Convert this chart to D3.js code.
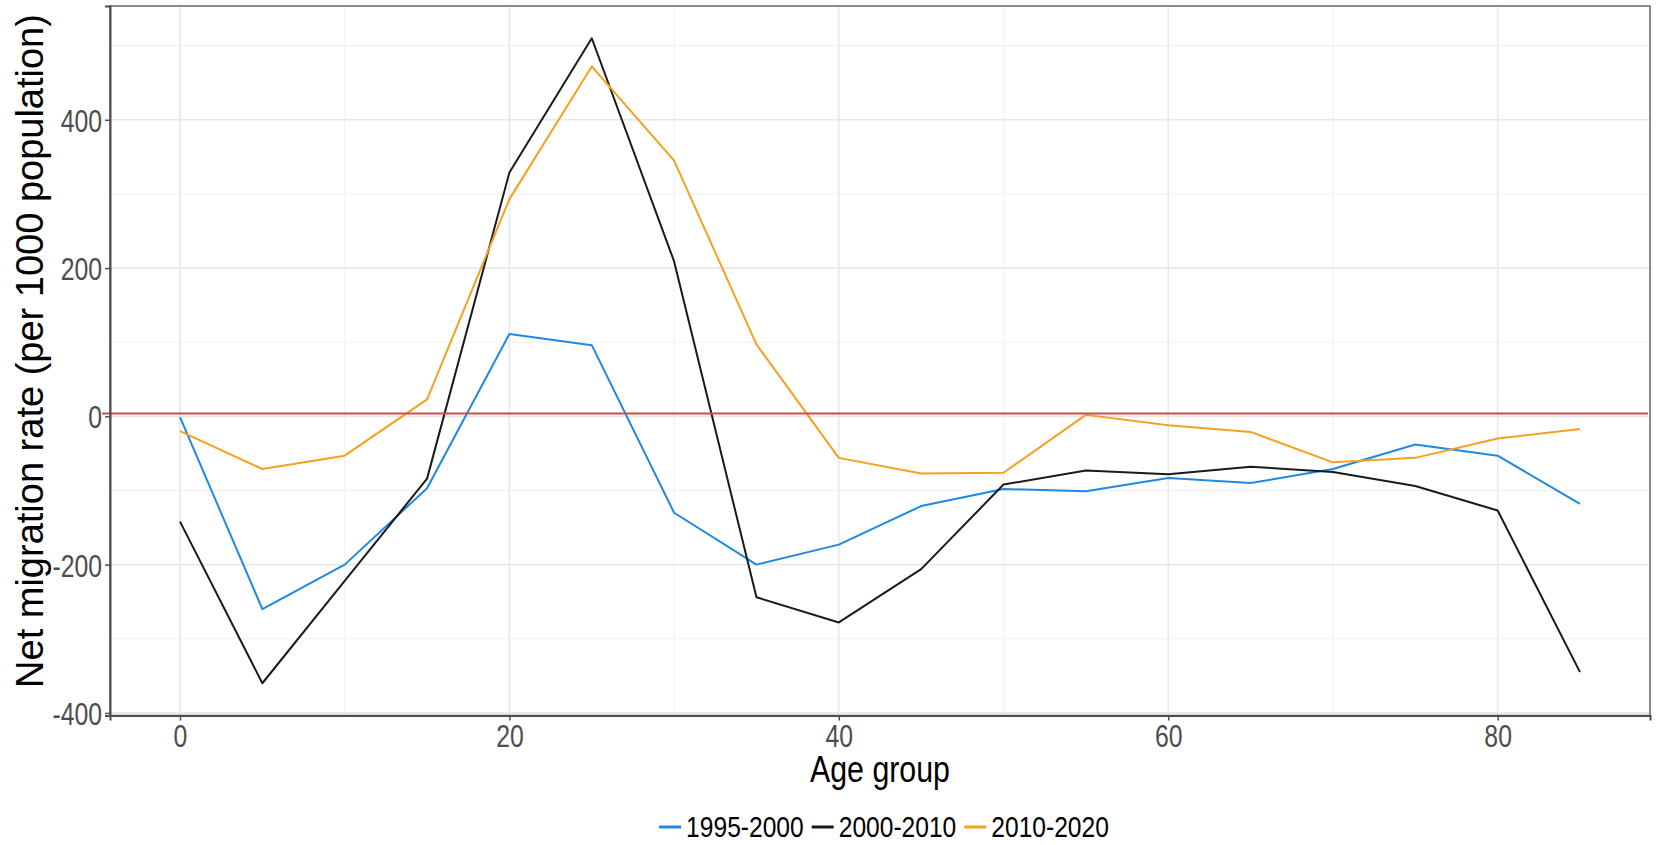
<!DOCTYPE html>
<html>
<head>
<meta charset="utf-8">
<script src="https://cdn.jsdelivr.net/npm/d3@7"></script>
<style>
    body { margin: 0; background: #fff; }
    svg { display: block; }
</style>
</head>
<body>
<div id="chart"></div>
<script>
//数据
var ageGroups = [0, 5, 10, 15, 20, 25, 30, 35, 40, 45, 50, 55, 60, 65, 70, 75, 80, 85];
var seriesNames = ["1995-2000", "2000-2010", "2010-2020"];
var seriesColors = ["#1e88e5", "#1a1a1a", "#f5a020"];
var rate1995 = [-1, -260, -200, -97, 111, 96, -130, -200, -173, -121, -98, -101, -83, -90, -71, -38, -53, -118];
var rate2000 = [-142, -360, -222, -84, 329, 510, 209, -244, -278, -206, -92, -73, -78, -68, -75, -94, -127, -345];
var rate2010 = [-20, -71, -53, 23, 293, 472, 345, 97, -56, -77, -76, 2, -12, -21, -62, -56, -30, -17];
var yTicks = [-400, -200, 0, 200, 400];
var yMinor = [-300, -100, 100, 300, 500];
var xTicks = [0, 20, 40, 60, 80];
var xMinor = [10, 30, 50, 70];
var refLine = 4;   //红色参考线

//没有窄体字，用 Liberation Sans 横向压缩代替
var font = "'Liberation Sans', Arial, sans-serif";
var sx = 0.82;      //标题、图例
var sxTick = 0.775; //刻度文字

var width = 1656, height = 845;
var panel = {left: 110, right: 1650, top: 6, bottom: 715.5};

var allSeries = [rate1995, rate2000, rate2010];
var yMin = d3.min(allSeries, function (s) { return d3.min(s); });
var yMax = d3.max(allSeries, function (s) { return d3.max(s); });
var yPad = (yMax - yMin) * 0.05;
var xPad = (d3.max(ageGroups) - d3.min(ageGroups)) * 0.05;

var x = d3.scaleLinear()
    .domain([d3.min(ageGroups) - xPad, d3.max(ageGroups) + xPad])
    .range([panel.left, panel.right]);
var y = d3.scaleLinear()
    .domain([yMin - yPad, yMax + yPad])
    .range([panel.bottom, panel.top]);

var svg = d3.select("#chart").append("svg")
    .attr("width", width)
    .attr("height", height);

//网格线
var grid = svg.append("g").attr("class", "grid");
grid.selectAll("line.ym").data(yMinor).enter().append("line")
    .attr("x1", panel.left).attr("x2", panel.right)
    .attr("y1", function (d) { return y(d); }).attr("y2", function (d) { return y(d); })
    .attr("stroke", "#f0f0f0").attr("stroke-width", 1);
grid.selectAll("line.xm").data(xMinor).enter().append("line")
    .attr("y1", panel.top).attr("y2", panel.bottom)
    .attr("x1", function (d) { return x(d); }).attr("x2", function (d) { return x(d); })
    .attr("stroke", "#f0f0f0").attr("stroke-width", 1);
grid.selectAll("line.yM").data(yTicks).enter().append("line")
    .attr("x1", panel.left).attr("x2", panel.right)
    .attr("y1", function (d) { return y(d); }).attr("y2", function (d) { return y(d); })
    .attr("stroke", "#e8e8e8").attr("stroke-width", 1.6);
grid.selectAll("line.xM").data(xTicks).enter().append("line")
    .attr("y1", panel.top).attr("y2", panel.bottom)
    .attr("x1", function (d) { return x(d); }).attr("x2", function (d) { return x(d); })
    .attr("stroke", "#e8e8e8").attr("stroke-width", 1.6);

//折线
var line = d3.line()
    .x(function (d, i) { return x(ageGroups[i]); })
    .y(function (d) { return y(d); });

svg.selectAll("path.series").data(allSeries).enter().append("path")
    .attr("class", "series")
    .attr("d", line)
    .attr("fill", "none")
    .attr("stroke", function (d, i) { return seriesColors[i]; })
    .attr("stroke-width", 2)
    .attr("stroke-linejoin", "round");

//参考线
svg.append("line")
    .attr("x1", panel.left - 8).attr("x2", panel.right - 2)
    .attr("y1", y(refLine)).attr("y2", y(refLine))
    .attr("stroke", "#c4504d").attr("stroke-width", 2);

//边框
svg.append("rect")
    .attr("x", panel.left).attr("y", panel.top)
    .attr("width", panel.right - panel.left).attr("height", panel.bottom - panel.top)
    .attr("fill", "none").attr("stroke", "#6e6e6e").attr("stroke-width", 1.6);

//坐标轴，数字用普通连字符
var fmt = function (d) { return String(d); };
var yAxis = svg.append("g")
    .attr("transform", "translate(" + panel.left + ",0)")
    .call(d3.axisLeft(y).tickValues(yTicks).tickFormat(fmt).tickSize(5).tickPadding(3));
var xAxis = svg.append("g")
    .attr("transform", "translate(0," + panel.bottom + ")")
    .call(d3.axisBottom(x).tickValues(xTicks).tickFormat(fmt).tickSize(5).tickPadding(3.5));

[yAxis, xAxis].forEach(function (ax) {
    ax.select(".domain").attr("stroke", "#4d4d4d").attr("stroke-width", 2);
    ax.selectAll(".tick line").attr("stroke", "#4d4d4d").attr("stroke-width", 1.5);
    ax.selectAll(".tick text")
        .attr("fill", "#4d4d4d")
        .attr("transform", "scale(" + sxTick + ",1)")
        .style("font-family", font)
        .style("font-size", "32px");
});
yAxis.selectAll(".tick text").attr("x", -8 / sxTick).attr("dy", "0.36em");

//坐标轴标题
svg.append("text")
    .attr("transform", "scale(" + sx + ",1)")
    .attr("x", (panel.left + panel.right) / 2 / sx)
    .attr("y", 782)
    .attr("text-anchor", "middle")
    .style("font-family", font)
    .style("font-size", "37px")
    .attr("fill", "#000")
    .text("Age group");

svg.append("text")
    .attr("transform", "translate(43,351)rotate(-90)")
    .attr("text-anchor", "middle")
    .style("font-family", font)
    .style("font-size", "38px")
    .attr("fill", "#000")
    .text("Net migration rate (per 1000 population)");

//图例
var legend = svg.append("g").attr("class", "legend");
var keyW = 22, keyGap = 5, itemGap = 8, legendY = 827;
var items = legend.selectAll("g.item").data(seriesNames).enter().append("g").attr("class", "item");
items.append("line")
    .attr("x1", 0).attr("x2", keyW)
    .attr("y1", legendY).attr("y2", legendY)
    .attr("stroke", function (d, i) { return seriesColors[i]; })
    .attr("stroke-width", 3);
items.append("text")
    .attr("transform", "scale(" + sx + ",1)")
    .attr("x", (keyW + keyGap) / sx)
    .attr("y", legendY + 10.5)
    .style("font-family", font)
    .style("font-size", "30px")
    .attr("fill", "#000")
    .text(function (d) { return d; });

var offsets = [], total = 0;
items.each(function () {
    var w = keyW + keyGap + d3.select(this).select("text").node().getComputedTextLength() * sx;
    offsets.push(total);
    total += w + itemGap;
});
total -= itemGap;
var startX = (panel.left + panel.right) / 2 + 4 - total / 2;
items.attr("transform", function (d, i) { return "translate(" + (startX + offsets[i]) + ",0)"; });
</script>
</body>
</html>
